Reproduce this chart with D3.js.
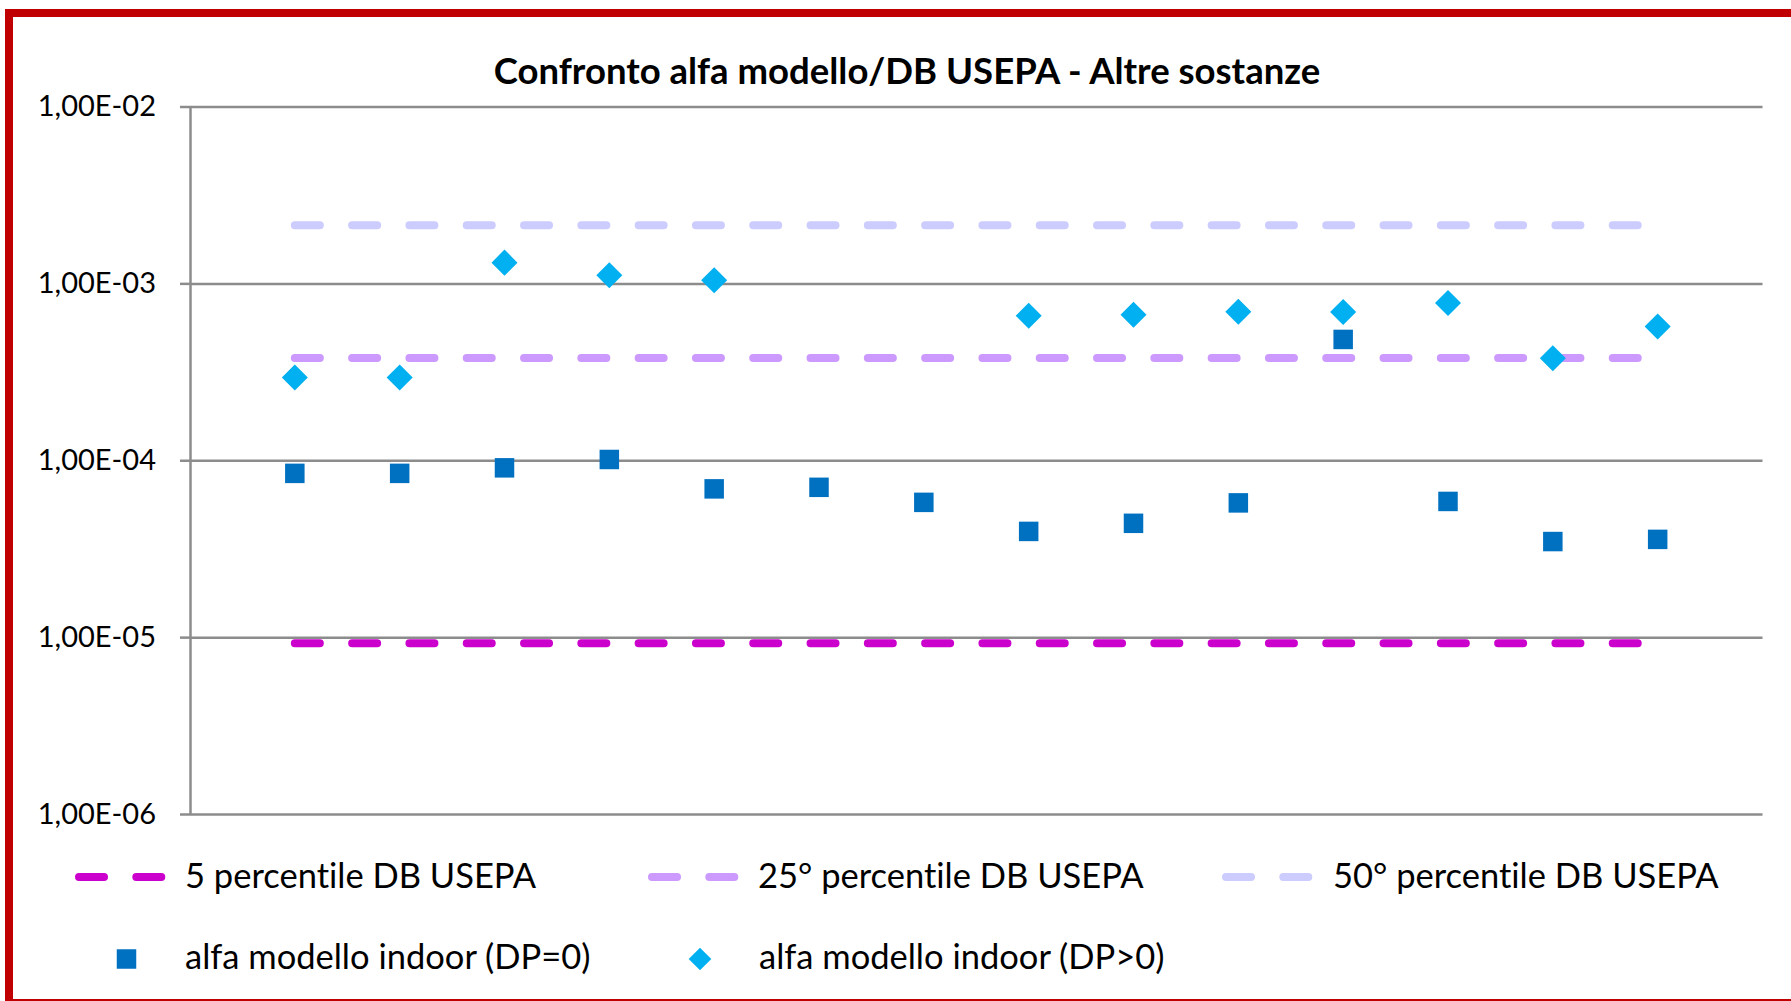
<!DOCTYPE html>
<html>
<head>
<meta charset="utf-8">
<script src="https://cdn.jsdelivr.net/npm/d3@7"></script>
<style>
  body { margin: 0; background: #fff; }
  svg { display: block; font-family: Lato, "Open Sans", sans-serif; font-variant-ligatures: none; font-feature-settings: "liga" 0, "dlig" 0; }
</style>
</head>
<body>
<svg width="1791" height="1001"></svg>
<script>
// position of each substance along x (Excel scatter, axis hidden 0..15)
const positions = [1, 2, 3, 4, 5, 6, 7, 8, 9, 10, 11, 12, 13, 14];
const alfaDP0 = [8.43e-5, 8.43e-5, 9.06e-5, 1.01e-4, 6.89e-5, 7.03e-5, 5.78e-5, 3.96e-5, 4.40e-5, 5.74e-5, 4.82e-4, 5.85e-5, 3.47e-5, 3.57e-5];
const alfaDPpos = [2.94e-4, 2.94e-4, 1.31e-3, 1.11e-3, 1.04e-3, null, null, 6.56e-4, 6.65e-4, 6.91e-4, 6.88e-4, 7.74e-4, 3.77e-4, 5.71e-4];
const percentileNames = ["5 percentile DB USEPA", "25° percentile DB USEPA", "50° percentile DB USEPA"];
const percentileValues = [9.24e-6, 3.79e-4, 2.13e-3];
const percentileColors = ["#CC00CC", "#CC99FF", "#CCCCFF"];
const lineSpan = [1, 14];
const yTicks = [1e-6, 1e-5, 1e-4, 1e-3, 1e-2];
const pointNames = ["alfa modello indoor (DP=0)", "alfa modello indoor (DP>0)"];
const pointColors = ["#0070C0", "#00B0F0"];

const svg = d3.select("svg");
const plot = { left: 190, right: 1762.5, top: 106.5, bottom: 814 };

const x = d3.scaleLinear().domain([0, 15]).range([plot.left, plot.right]);
const y = d3.scaleLog().domain([1e-6, 1e-2]).range([plot.bottom, plot.top]);

function sciLabel(d) {
  const exp = Math.round(Math.log10(d));
  const sign = exp < 0 ? "-" : "+";
  return "1,00E" + sign + String(Math.abs(exp)).padStart(2, "0");
}

// red frame, runs off the right edge like the source picture
svg.append("rect")
  .attr("x", 9).attr("y", 13)
  .attr("width", 1820).attr("height", 990)
  .attr("fill", "none")
  .attr("stroke", "#C00000")
  .attr("stroke-width", 8);

svg.append("text")
  .attr("x", 907).attr("y", 84)
  .attr("text-anchor", "middle")
  .attr("font-size", "36.5px")
  .attr("font-weight", "bold")
  .attr("fill", "#000")
  .text("Confronto alfa modello/DB USEPA - Altre sostanze");

// gridlines
svg.append("g")
  .attr("transform", `translate(${plot.left},0)`)
  .call(d3.axisLeft(y).tickValues(yTicks).tickSize(-(plot.right - plot.left)).tickFormat(""))
  .call(g => g.select(".domain").remove())
  .call(g => g.selectAll("line").attr("stroke", "#8c8c8c").attr("stroke-width", 2.5));

// y axis with outer ticks and labels
svg.append("g")
  .attr("transform", `translate(${plot.left},0)`)
  .call(d3.axisLeft(y).tickValues(yTicks).tickSize(10).tickSizeOuter(0).tickPadding(24).tickFormat(sciLabel))
  .call(g => g.select(".domain").attr("stroke", "#8c8c8c").attr("stroke-width", 2.5))
  .call(g => g.selectAll("line").attr("stroke", "#8c8c8c").attr("stroke-width", 2.5))
  .call(g => g.selectAll("text")
    .attr("font-family", "Lato, sans-serif")
    .attr("font-size", "29px")
    .attr("fill", "#000"));

const dash = "25 32.3";
const line = d3.line().x(d => x(d[0])).y(d => y(d[1]));

svg.append("g").selectAll("path")
  .data(percentileValues)
  .join("path")
  .attr("d", (v) => line(lineSpan.map(p => [p, v])))
  .attr("fill", "none")
  .attr("stroke", (v, i) => percentileColors[i])
  .attr("stroke-width", 8)
  .attr("stroke-linecap", "round")
  .attr("stroke-dasharray", dash);

const square = d3.symbol().type(d3.symbolSquare).size(19.5 * 19.5);
const diamond = d3.symbol().type(d3.symbolSquare).size(18.4 * 18.4);

svg.append("g").selectAll("path")
  .data(positions.map((p, i) => ({ p, v: alfaDP0[i] })))
  .join("path")
  .attr("d", square)
  .attr("transform", d => `translate(${x(d.p)},${y(d.v)})`)
  .attr("fill", pointColors[0]);

svg.append("g").selectAll("path")
  .data(positions.map((p, i) => ({ p, v: alfaDPpos[i] })).filter(d => d.v != null))
  .join("path")
  .attr("d", diamond)
  .attr("transform", d => `translate(${x(d.p)},${y(d.v)}) rotate(45)`)
  .attr("fill", pointColors[1]);

// legend
const legendRow1 = [{ sx: 79, tx: 185 }, { sx: 652, tx: 758 }, { sx: 1226, tx: 1333 }];
const legend1 = svg.append("g").selectAll("g")
  .data(percentileNames)
  .join("g");
legend1.append("path")
  .attr("d", (d, i) => `M${legendRow1[i].sx},877H${legendRow1[i].sx + 82.3}`)
  .attr("stroke", (d, i) => percentileColors[i])
  .attr("stroke-width", 8)
  .attr("stroke-linecap", "round")
  .attr("stroke-dasharray", dash);
legend1.append("text")
  .attr("x", (d, i) => legendRow1[i].tx)
  .attr("y", 888)
  .attr("font-size", "34.5px")
  .attr("fill", "#000")
  .text(d => d);

const legendRow2 = [{ sx: 126.5, tx: 185 }, { sx: 700, tx: 759 }];
const legend2 = svg.append("g").selectAll("g")
  .data(pointNames)
  .join("g");
legend2.append("path")
  .attr("d", (d, i) => i === 0 ? square() : d3.symbol().type(d3.symbolSquare).size(16 * 16)())
  .attr("transform", (d, i) => `translate(${legendRow2[i].sx},959)` + (i === 1 ? " rotate(45)" : ""))
  .attr("fill", (d, i) => pointColors[i]);
legend2.append("text")
  .attr("x", (d, i) => legendRow2[i].tx)
  .attr("y", 969)
  .attr("font-size", "34.5px")
  .attr("fill", "#000")
  .text(d => d);
</script>
</body>
</html>
